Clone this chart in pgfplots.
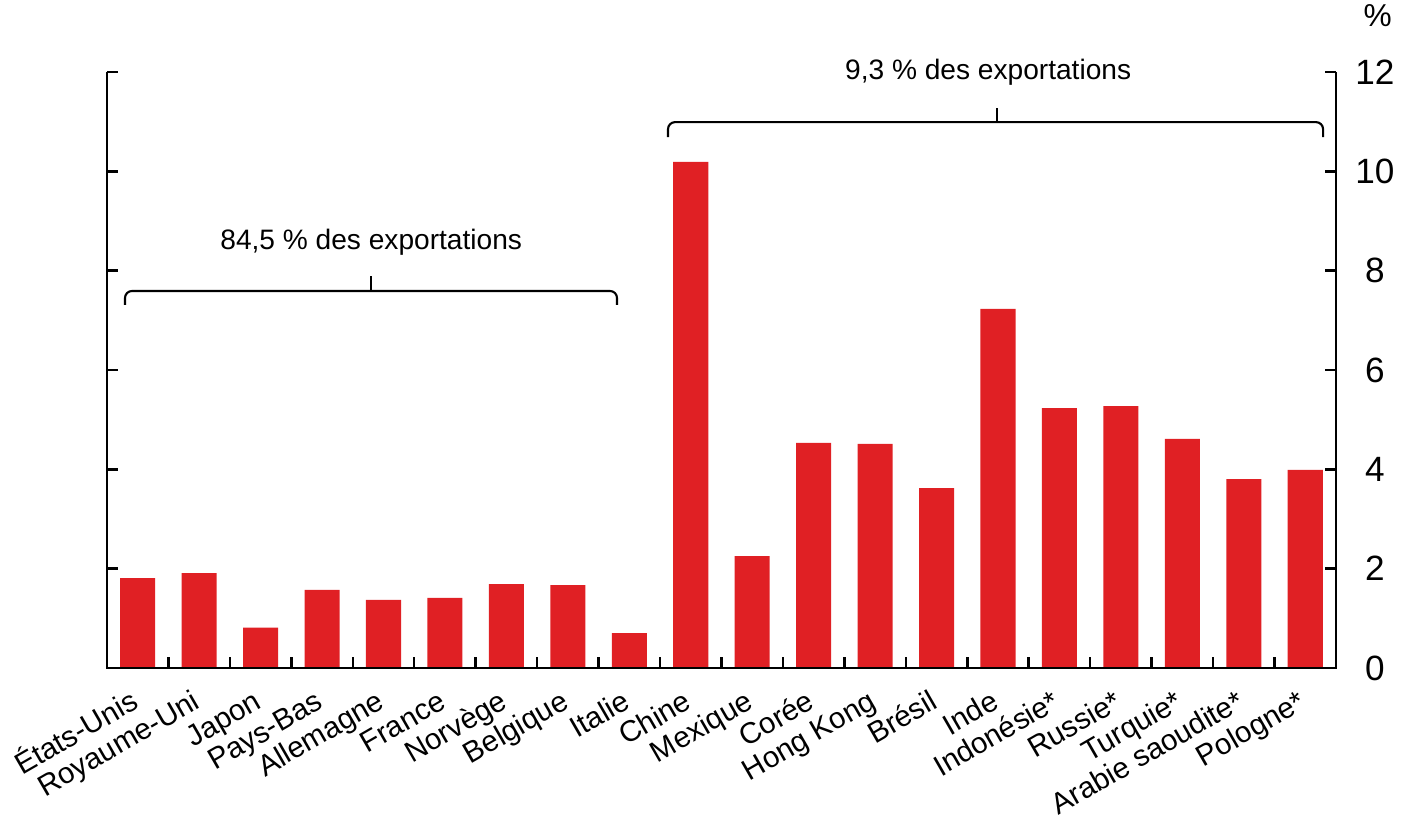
\documentclass[border=0pt]{standalone}
\usepackage{fontspec}
\setmainfont{Liberation Sans}
\usepackage{pgfplots}
\pgfplotsset{compat=1.18}
\definecolor{barred}{RGB}{224,32,36}

\begin{document}
\begin{tikzpicture}
\begin{axis}[
    width=12.29cm, height=5.96cm, scale only axis,
    xmin=-0.5, xmax=19.5, ymin=0, ymax=12,
    axis line style={draw=none},
    clip=false,
    tick align=inside,
    major tick length=0.11cm,
    tick style={black, line width=0.7pt},
    ytick={0,2,...,12},
    ytick pos=both, yticklabel pos=right,
    yticklabel style={anchor=center, xshift=0.39cm, font=\fontsize{10}{12}\selectfont},
    xtick={0.5,1.5,...,18.5},
    xticklabels={},
    xtick pos=left,
    extra x ticks={0,1,...,19},
    extra x tick labels={États-Unis,Royaume-Uni,Japon,Pays-Bas,Allemagne,France,Norvège,Belgique,Italie,Chine,Mexique,Corée,Hong Kong,Brésil,Inde,Indonésie*,Russie*,Turquie*,Arabie saoudite*,Pologne*},
    extra x tick style={major tick length=0pt},
    xticklabel style={yshift=-0.39cm, xshift=0.03cm, rotate=30, anchor=base east, inner sep=0pt, font=\fontsize{8.4}{10}\selectfont},
    /pgf/number format/assume math mode=true,
]
\addplot[ybar, bar width=0.57, fill=barred, draw=none] coordinates {
    (0,1.81) (1,1.91) (2,0.81) (3,1.57) (4,1.37) (5,1.41) (6,1.69) (7,1.67) (8,0.70)
    (9,10.19) (10,2.25) (11,4.53) (12,4.51) (13,3.62) (14,7.23) (15,5.23) (16,5.27)
    (17,4.61) (18,3.80) (19,3.99)
};
% axis frame without the top line
\draw[line width=0.7pt] (rel axis cs:0,1) -- (rel axis cs:0,0) -- (rel axis cs:1,0) -- (rel axis cs:1,1);
% braces
\draw[line width=0.6pt, rounded corners=2pt] (axis cs:-0.207,7.31) -- (axis cs:-0.207,7.59) -- (axis cs:7.80,7.59) -- (axis cs:7.80,7.31);
\draw[line width=0.6pt] (axis cs:3.80,7.59) -- (axis cs:3.80,7.89);
\draw[line width=0.6pt, rounded corners=2pt] (axis cs:8.63,10.69) -- (axis cs:8.63,10.99) -- (axis cs:19.29,10.99) -- (axis cs:19.29,10.69);
\draw[line width=0.6pt] (axis cs:13.98,10.99) -- (axis cs:13.98,11.27);
\node[anchor=base, font=\fontsize{8}{10}\selectfont] at (axis cs:3.80,8.42) {84,5 \% des exportations};
\node[anchor=base, font=\fontsize{8}{10}\selectfont] at (axis cs:13.84,11.84) {9,3 \% des exportations};
\node[anchor=base, font=\fontsize{9}{11}\selectfont] at (axis cs:20.18,12.92) {\%};
\coordinate (bbl) at (axis cs:-2.241,-3.241);
\coordinate (btr) at (axis cs:20.656,13.449);
\end{axis}
\pgfresetboundingbox
\path[use as bounding box] (bbl) rectangle (btr);
\end{tikzpicture}
\end{document}
